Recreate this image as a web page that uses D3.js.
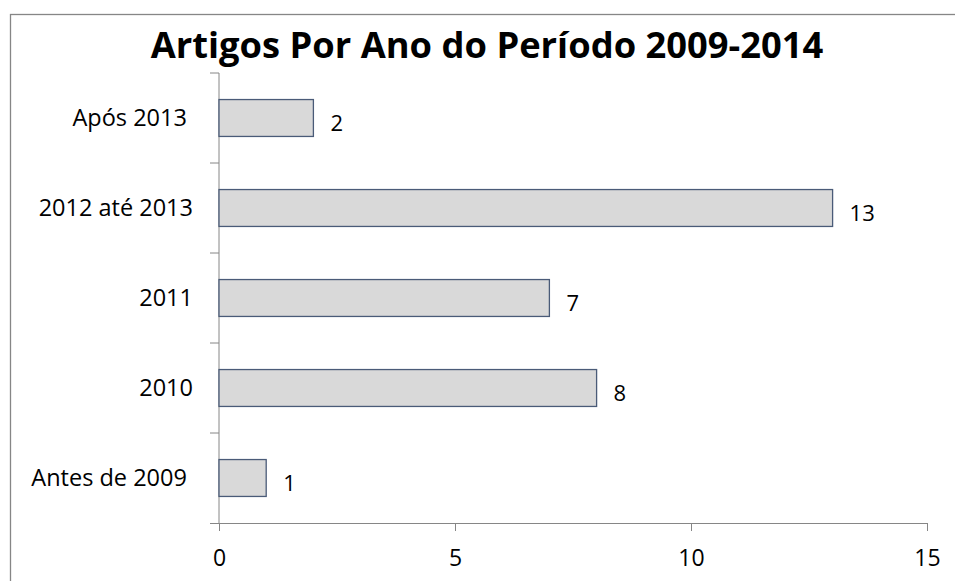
<!DOCTYPE html>
<html lang="pt">
<head>
  <meta charset="UTF-8">
  <title>Artigos Por Ano do Período 2009-2014</title>
  <script src="https://d3js.org/d3.v7.min.js"></script>
  <style>
    body {
      margin: 0;
      background: #fff;
      font-family: "Open Sans", sans-serif;
    }
    .bar {
      fill: #d9d9d9;
      stroke: #4a5b78;
      stroke-width: 1.3;
    }
    .axis path, .axis line {
      stroke: #868686;
    }
    .axis text {
      fill: #000;
      font-family: "Open Sans", sans-serif;
    }
  </style>
</head>
<body>
  <svg width="955" height="581"></svg>

  <script>
    // categories top to bottom, as in the picture
    const categories = ["Após 2013 ", "2012 até 2013", "2011", "2010", "Antes de 2009 "];
    const values = [2, 13, 7, 8, 1];
    const xTicks = [0, 5, 10, 15];
    const title = "Artigos Por Ano do Período 2009-2014";

    const svg = d3.select("svg"),
          margin = {top: 73, right: 28, bottom: 58, left: 219},
          width = +svg.attr("width") - margin.left - margin.right,
          height = +svg.attr("height") - margin.top - margin.bottom;

    // chart border (right and bottom edges fall outside the frame)
    svg.append("rect")
       .attr("x", 10.5)
       .attr("y", 14.5)
       .attr("width", 1000)
       .attr("height", 1000)
       .attr("fill", "none")
       .attr("stroke", "#868686")
       .attr("stroke-width", 1.3);

    svg.append("text")
       .attr("x", 487)
       .attr("y", 58)
       .attr("text-anchor", "middle")
       .style("font-weight", "bold")
       .style("font-size", "36.3px")
       .text(title);

    const g = svg.append("g")
                 .attr("transform", `translate(${margin.left},${margin.top})`);

    const x = d3.scaleLinear()
                .domain([0, 15])
                .range([0, width]);

    const y = d3.scaleBand()
                .domain(categories)
                .range([0, height])
                .paddingInner(0.59)
                .paddingOuter(0.295);

    // X axis
    const xAxis = g.append("g")
      .attr("class", "axis")
      .attr("transform", `translate(0,${height})`)
      .call(d3.axisBottom(x).tickValues(xTicks).tickSize(8).tickSizeOuter(0).tickPadding(19));
    xAxis.select(".domain").attr("d", `M-9,0.5H${width}`);
    xAxis.selectAll("text").style("font-size", "23px");

    // Y axis: ticks sit on the band boundaries
    const yAxis = g.append("g").attr("class", "axis");
    yAxis.append("line")
      .attr("x1", 0).attr("x2", 0)
      .attr("y1", 0).attr("y2", height);
    yAxis.selectAll(".tick-line")
      .data(categories)
      .enter()
      .append("line")
        .attr("x1", -9).attr("x2", 0)
        .attr("y1", d => y(d) - y.step() * y.paddingInner() / 2)
        .attr("y2", d => y(d) - y.step() * y.paddingInner() / 2);
    yAxis.selectAll(".cat")
      .data(categories)
      .enter()
      .append("text")
        .attr("x", -26)
        .attr("y", d => y(d) + y.bandwidth() / 2)
        .attr("dy", "0.35em")
        .attr("text-anchor", "end")
        .style("white-space", "pre")
        .style("font-size", "23.5px")
        .text(d => d);

    // Bars
    g.selectAll(".bar")
      .data(values)
      .enter()
      .append("rect")
        .attr("class", "bar")
        .attr("x", 0)
        .attr("y", (d, i) => y(categories[i]))
        .attr("width", d => x(d))
        .attr("height", y.bandwidth());

    // Value labels
    g.selectAll(".label")
      .data(values)
      .enter()
      .append("text")
        .attr("x", d => x(d) + 17)
        .attr("y", (d, i) => y(categories[i]) + y.bandwidth() / 2 + 5)
        .attr("dy", "0.35em")
        .style("font-size", "22px")
        .text(d => d);
  </script>
</body>
</html>
